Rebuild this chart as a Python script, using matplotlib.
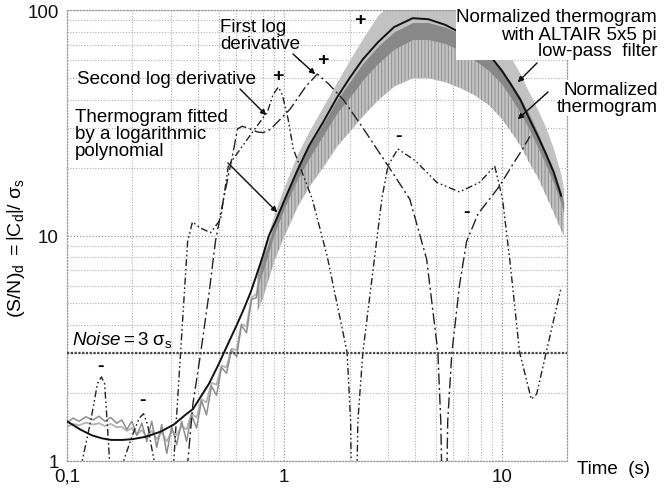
import matplotlib
matplotlib.use("Agg")
import matplotlib.pyplot as plt
from matplotlib.ticker import FixedLocator, FixedFormatter, LogLocator, NullFormatter

plt.rcParams["font.family"] = ["Liberation Sans", "DejaVu Sans"]
plt.rcParams["mathtext.fontset"] = "custom"
plt.rcParams["mathtext.rm"] = "Liberation Sans"
plt.rcParams["mathtext.it"] = "Liberation Sans:italic"
plt.rcParams["mathtext.bf"] = "Liberation Sans:bold"
plt.rcParams["hatch.linewidth"] = 0.7

# --- early part of the thermograms (t < 0.85 s), raw and low-pass filtered
early_t = [0.100, 0.1065, 0.1135, 0.122, 0.1316, 0.1402, 0.1494, 0.159, 0.1696,
           0.1788, 0.1885, 0.1988, 0.2096, 0.221, 0.2329, 0.2455, 0.2588, 0.2729,
           0.2877, 0.3033, 0.3197, 0.337, 0.355, 0.374, 0.3945, 0.416, 0.4385,
           0.4624, 0.4875, 0.514, 0.542, 0.571, 0.603, 0.635, 0.67, 0.706, 0.744,
           0.784, 0.827]
raw_early = [1.47, 1.55, 1.50, 1.57, 1.52, 1.58, 1.50, 1.56, 1.47, 1.52, 1.38, 1.50,
             1.30, 1.47, 1.22, 1.50, 1.15, 1.45, 1.08, 1.42, 1.18, 1.50, 1.22, 1.60,
             1.40, 1.85, 1.60, 2.15, 1.95, 2.60, 2.45, 3.1, 2.9, 4.0, 3.7, 5.2, 5.3,
             7.2, 8.5]
filt_early = [1.42, 1.46, 1.44, 1.48, 1.45, 1.47, 1.43, 1.46, 1.41, 1.42, 1.36, 1.40,
              1.31, 1.37, 1.28, 1.36, 1.25, 1.34, 1.22, 1.36, 1.30, 1.43, 1.38, 1.62,
              1.56, 1.88, 1.82, 2.22, 2.18, 2.65, 2.6, 3.15, 3.1, 4.05, 3.95, 5.3, 5.5,
              7.3, 8.8]

# --- noisy band of the thermograms (t > 0.75 s), envelopes
band_t = [0.75, 0.8, 0.9, 1.0, 1.15, 1.3, 1.5, 1.75, 2.0, 2.3, 2.7, 3.2, 3.9, 4.6,
          5.5, 6.5, 7.5, 8.7, 10.0, 11.0, 12.2, 13.4, 14.7, 16.0, 17.4, 18.8, 19.3]
filt_hi = [7.2, 8.6, 12.5, 16.5, 23, 29, 37, 48, 60, 75, 95, 110, 110, 110, 110, 110,
           105, 90, 74, 62, 52, 43, 36, 30, 24, 18.5, 16]
raw_hi = [6.6, 7.8, 11.3, 14.5, 19.8, 25, 31, 40, 48, 58, 69, 80, 88, 88, 84, 78, 71,
          64, 55, 48, 41, 34.5, 28.5, 23.5, 19.5, 15.5, 14]
raw_mid = [6.0, 7.0, 10.2, 13.2, 17.8, 22, 27.5, 35, 41, 49, 58, 67, 74, 74, 71, 66, 60,
           54, 47, 41, 35, 29.5, 24.5, 20.5, 17, 13.8, 12.6]
raw_lo = [4.6, 5.4, 7.8, 10, 13.5, 16.5, 20, 25, 29, 34, 40, 46, 50, 50, 48, 45, 42, 38,
          33, 29, 25, 21, 18, 15, 12.5, 10.5, 10]

# --- thermogram fitted by a logarithmic polynomial
fit_t = [0.1, 0.115, 0.13, 0.145, 0.16, 0.18, 0.2, 0.23, 0.27, 0.31, 0.35, 0.38, 0.45,
         0.5, 0.55, 0.6, 0.65, 0.7, 0.78, 0.85, 0.92, 1.0, 1.15, 1.3, 1.5, 1.75, 2.0,
         2.3, 2.7, 3.2, 3.9, 4.6, 5.5, 6.5, 7.5, 8.7, 10, 11, 12.2, 13.4, 14.7, 16,
         17.4, 18.8]
fit_val = [1.5, 1.38, 1.3, 1.26, 1.24, 1.24, 1.25, 1.28, 1.35, 1.45, 1.6, 1.7, 2.2,
           2.7, 3.3, 3.95, 4.7, 5.6, 7.6, 10.0, 11.8, 14.3, 19.5, 25, 31.5, 41, 50,
           60.5, 72, 84, 92, 91, 86, 79, 72, 64, 54, 47, 40, 33, 27.5, 23, 19, 15]

# --- |first log derivative| (values below 1 fall off the axis at zero crossings)
d1_t = [0.355, 0.36, 0.38, 0.412, 0.45, 0.482, 0.525, 0.577, 0.609, 0.64, 0.68,
        0.75, 0.8, 0.86, 0.95, 1.065, 1.25, 1.42, 1.6, 1.87, 2.3, 3.0, 3.78, 4.52,
        5.09, 5.25, 5.36, 5.55, 5.65, 5.9, 6.4, 6.9, 7.8, 8.8, 9.8, 11.2, 12.5, 13.5]
d1_val = [0.5, 1.0, 1.8, 3.0, 5.5, 9.4, 14.5, 22.5, 29.7, 30.5, 30.0, 28.8, 28.6,
          29.5, 32.5, 36.4, 45.5, 52, 47, 40, 30, 20.4, 14.5, 7.85, 3.04, 1.5, 0.5,
          0.5, 1.5, 3.0, 6.0, 9.4, 12.5, 14.5, 16.6, 20.5, 24.2, 27.5]

# --- |second log derivative|
d2_t = [0.116, 0.1175, 0.129, 0.138, 0.144, 0.149, 0.153, 0.157, 0.16,
        0.178, 0.182, 0.2, 0.215, 0.225, 0.235, 0.245, 0.252, 0.256,
        0.305, 0.31, 0.333, 0.359, 0.378, 0.41, 0.458, 0.509, 0.553, 0.628, 0.7,
        0.836, 0.89, 0.94, 0.98, 1.04, 1.1, 1.345, 1.575, 1.945, 2.02, 2.05,
        2.14, 2.18, 2.30, 2.81, 3.0, 3.33, 4.0, 5.03, 6.4, 7.92, 9.3, 10.1, 10.9,
        12.1, 13.7, 14.5, 18.8]
d2_val = [0.5, 1.0, 1.53, 2.2, 2.36, 2.2, 1.5, 1.0, 0.5,
          0.5, 1.0, 1.3, 1.55, 1.62, 1.45, 1.15, 1.0, 0.5,
          0.5, 1.0, 3.0, 9.4, 11.5, 10.8, 10.3, 11.8, 20.4, 24.2, 28,
          35.3, 42.4, 45.5, 42, 33, 24.2, 14.5, 8.1, 3.04, 1.5, 0.5,
          0.5, 1.5, 3.04, 14.5, 20.4, 24.2, 21.5, 17.2, 15.6, 17.2, 20.3, 14.5, 7.85,
          3.04, 1.88, 1.98, 5.9]

noise_level = 3.0

x_ticks = [0.1, 1, 10]
x_ticklabels = ["0,1", "1", "10"]
y_ticks = [1, 10, 100]
y_ticklabels = ["1", "10", "100"]

W, H = 665, 489


def P(px, py):
    """image pixel -> figure fraction"""
    return (px / W, 1 - py / H)


fig = plt.figure(figsize=(W / 100, H / 100), dpi=100)
ax = fig.add_axes([67 / W, 1 - 462 / H, 500 / W, 451 / H])
ax.set_xscale("log")
ax.set_yscale("log")
ax.set_xlim(0.1, 20)
ax.set_ylim(1, 100)

# thermogram bands
ax.fill_between(band_t, raw_lo, filt_hi, color="#c2c2c2", lw=0, zorder=2)
ax.fill_between(band_t, raw_mid, raw_hi, color="#888888", lw=0, zorder=2.1)
ax.fill_between(band_t, raw_lo, raw_mid, facecolor="none", edgecolor="#909090",
                hatch="|||||", lw=0, zorder=2.2)
ax.plot(early_t, filt_early, color="#b4b4b4", lw=1.3, zorder=2.3)
ax.plot(early_t, raw_early, color="#8e8e8e", lw=1.1, zorder=2.4)

# fit and derivatives
ax.plot(fit_t, fit_val, color="#111111", lw=1.4, zorder=4)
ax.plot(d1_t, d1_val, color="#222222", lw=1.0, dashes=[8, 2.5, 1.5, 2.5], zorder=3)
ax.plot(d2_t, d2_val, color="#222222", lw=1.0, dashes=[5, 2, 1.2, 2, 1.2, 2], zorder=3)

ax.axhline(noise_level, color="#444444", lw=1.6, ls=(0, (1, 0.7)), zorder=3)

# axes cosmetics
ax.xaxis.set_major_locator(FixedLocator(x_ticks))
ax.xaxis.set_major_formatter(FixedFormatter(x_ticklabels))
ax.yaxis.set_major_locator(FixedLocator(y_ticks))
ax.yaxis.set_major_formatter(FixedFormatter(y_ticklabels))
ax.xaxis.set_minor_locator(LogLocator(base=10, subs=range(2, 10)))
ax.yaxis.set_minor_locator(LogLocator(base=10, subs=range(2, 10)))
ax.xaxis.set_minor_formatter(NullFormatter())
ax.yaxis.set_minor_formatter(NullFormatter())
ax.tick_params(which="both", length=0, labelsize=13.5, colors="#111111")
ax.tick_params(axis="x", pad=5)
ax.tick_params(axis="y", pad=6)
ax.grid(True, which="major", color="#9a9a9a", ls=(0, (1, 1.5)), lw=0.9)
ax.grid(True, which="minor", color="#b0b0b0", ls=(0, (1, 1.5)), lw=0.8)
ax.set_axisbelow(True)
for s in ax.spines.values():
    s.set_color("#9a9a9a")
    s.set_linestyle((0, (1, 1.5)))
    s.set_linewidth(0.9)

ax.set_ylabel(r"$\mathrm{(S/N)}_\mathrm{d}\ = \left|\mathrm{C}_\mathrm{d}\right| /\ \mathrm{σ}_\mathrm{s}$",
              fontsize=14)
ax.yaxis.set_label_coords(-0.08, 0.474)

fs = 13.5
fig.text(*P(577, 470), "Time  (s)", fontsize=fs, ha="left", va="center")

white = dict(facecolor="white", edgecolor="none", pad=0.5)
fig.text(*P(657, 35), "Normalized thermogram\nwith ALTAIR 5x5 pi\nlow-pass  filter",
         fontsize=fs, ha="right", va="center", linespacing=1.0, bbox=white, zorder=6)
fig.text(*P(658, 99), "Normalized\nthermogram", fontsize=fs, ha="right", va="center",
         linespacing=1.0, bbox=white, zorder=6)
fig.text(*P(220, 36), "First log\nderivative", fontsize=fs, ha="left", va="center",
         linespacing=1.0)
fig.text(*P(77, 80), "Second log derivative", fontsize=fs, ha="left", va="center")
fig.text(*P(75, 135), "Thermogram fitted\nby a logarithmic\npolynomial", fontsize=fs,
         ha="left", va="center", linespacing=1.0)
fig.text(*P(72, 340), r"$\mathit{Noise}\mathrm{ = 3\ σ}_\mathrm{s}$", fontsize=fs,
         ha="left", va="center")

arrows = [((537, 64), (518, 83)), ((548, 93), (518, 120)), ((293, 55), (315, 75)),
          ((240, 90), (266, 116)), ((228, 164), (277, 213))]
for start, end in arrows:
    fig.add_artist(plt.annotate("", xy=P(*end), xytext=P(*start), xycoords="figure fraction",
                                textcoords="figure fraction",
                                arrowprops=dict(arrowstyle="-|>", lw=0.8, color="#111111",
                                                mutation_scale=8, shrinkA=0, shrinkB=0)))

signs = [("+", 360, 20), ("+", 323, 61), ("+", 278, 77), ("-", 398, 137),
         ("-", 466, 213), ("-", 101, 367), ("-", 143, 401)]
for s, px, py in signs:
    fig.text(*P(px, py), s, fontsize=14, fontweight="bold", ha="center", va="center")

fig.savefig("out.png", dpi=100)
